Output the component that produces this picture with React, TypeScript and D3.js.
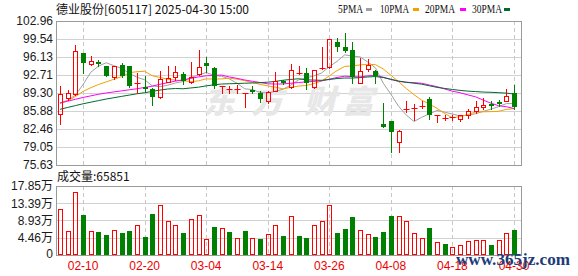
import React from "react";
import * as d3 from "d3";

const dates = [
  "02-05","02-06","02-07","02-10","02-11","02-12","02-13","02-14","02-17","02-18",
  "02-19","02-20","02-21","02-24","02-25","02-26","02-27","02-28","03-03","03-04",
  "03-05","03-06","03-07","03-10","03-11","03-12","03-13","03-14","03-17","03-18",
  "03-19","03-20","03-21","03-24","03-25","03-26","03-27","03-28","03-31","04-01",
  "04-02","04-03","04-07","04-08","04-09","04-10","04-11","04-14","04-15","04-16",
  "04-17","04-18","04-21","04-22","04-23","04-24","04-25","04-28","04-29","04-30",
];

const opens = [
  85.30, 88.29, 89.10, 96.82, 94.74, 95.18, 94.42, 92.27, 94.67, 94.42,
  91.00, 90.37, 89.99, 88.47, 91.45, 92.27, 92.84, 91.32, 92.84, 94.99,
  94.04, 90.55, 89.95, 89.95, 89.18, 89.90, 89.23, 87.84, 89.73, 91.55,
  90.50, 92.95, 93.03, 90.37, 93.95, 94.29, 98.97, 98.09, 97.46, 91.26,
  93.79, 93.41, 83.41, 83.98, 80.06, 86.20, 86.20, 86.70, 88.18, 85.10,
  84.55, 84.50, 84.27, 85.08, 85.82, 86.57, 87.25, 87.56, 87.87, 89.24,
];
const highs = [
  90.60, 89.87, 98.40, 96.82, 96.32, 95.62, 94.48, 94.42, 94.92, 94.42,
  93.15, 92.52, 90.18, 93.53, 94.43, 94.42, 93.28, 95.18, 97.45, 96.06,
  94.30, 90.70, 90.62, 90.80, 89.30, 90.62, 89.74, 89.60, 93.34, 91.75,
  94.85, 94.42, 93.98, 93.70, 97.96, 99.60, 99.67, 100.74, 99.04, 95.87,
  95.68, 93.66, 87.46, 84.00, 82.27, 87.87, 87.25, 87.87, 88.62, 85.20,
  85.20, 85.08, 85.08, 86.32, 87.69, 88.31, 87.87, 88.06, 90.05, 90.79,
];
const lows = [
  83.41, 87.97, 89.00, 93.15, 94.55, 94.48, 92.58, 91.95, 92.40, 90.50,
  89.23, 89.74, 87.08, 88.30, 91.30, 91.76, 90.94, 91.20, 92.70, 93.34,
  90.18, 89.23, 89.23, 89.23, 86.58, 89.23, 87.65, 87.34, 89.60, 91.00,
  90.30, 92.85, 90.12, 90.20, 93.85, 94.10, 97.33, 97.08, 91.13, 91.20,
  93.50, 91.13, 82.80, 78.03, 78.16, 85.70, 84.15, 86.44, 84.33, 83.84,
  84.15, 84.15, 84.02, 84.46, 85.51, 86.32, 86.32, 86.82, 87.80, 86.32,
];
const closes = [
  89.10, 89.35, 97.20, 95.05, 95.43, 94.93, 92.58, 94.42, 92.58, 90.69,
  91.13, 90.20, 88.60, 91.89, 92.05, 93.22, 91.64, 92.39, 94.17, 94.48,
  90.62, 90.65, 89.99, 90.02, 89.23, 89.75, 88.09, 89.40, 91.63, 91.30,
  93.60, 93.03, 91.13, 93.66, 94.10, 99.54, 98.09, 97.33, 92.39, 93.41,
  94.67, 92.52, 82.90, 81.80, 82.00, 86.32, 86.45, 86.82, 85.15, 85.18,
  84.64, 84.66, 85.08, 85.82, 86.57, 86.94, 86.75, 87.45, 88.68, 86.63,
];
const volumes = [
  120000, 61000, 164000, 103000, 61000, 59000, 51500, 63500, 56500, 61000,
  76500, 46500, 105500, 129000, 87000, 76500, 56500, 92000, 103000, 40500,
  72000, 69000, 59000, 43000, 62000, 43000, 41000, 54000, 76500, 49000,
  100000, 49000, 44000, 77500, 87500, 130500, 57500, 67000, 98000, 64500,
  54000, 46500, 59000, 100500, 100500, 87500, 56500, 44000, 69500, 33500,
  28500, 20500, 25000, 36000, 38500, 38500, 26000, 38500, 57500, 65851,
];

const ma5 = [
  87.4, 87.9, 88.9, 90.9, 93.23, 94.39, 95.04, 94.48, 93.99, 93.04,
  92.28, 91.80, 90.64, 90.50, 90.77, 91.19, 91.48, 92.24, 92.69, 93.18,
  92.66, 92.46, 91.98, 91.15, 90.10, 89.93, 89.42, 89.30, 89.62, 90.03,
  90.80, 91.79, 92.14, 92.54, 93.10, 94.29, 95.30, 96.54, 96.29, 96.15,
  95.18, 94.06, 91.18, 89.06, 86.78, 85.11, 83.89, 84.68, 85.35, 85.98,
  85.65, 85.29, 84.94, 85.08, 85.35, 85.81, 86.23, 86.71, 87.28, 87.29,
];
const ma10 = [
  87.35, 87.8, 88.6, 89.6, 90.3, 90.9, 91.4, 91.9, 92.4, 93.13,
  93.34, 93.42, 92.56, 92.25, 91.91, 91.74, 91.64, 91.44, 91.60, 91.98,
  91.93, 91.97, 92.11, 91.92, 91.64, 91.29, 90.94, 90.64, 90.39, 90.07,
  90.37, 90.61, 90.72, 91.09, 91.57, 92.55, 93.55, 94.34, 94.42, 94.63,
  94.74, 94.68, 93.86, 92.68, 91.47, 90.14, 88.98, 87.93, 87.20, 86.38,
  85.38, 84.59, 84.81, 85.21, 85.67, 85.73, 85.76, 85.82, 86.18, 86.32,
];
const ma20 = [
  87.4, 87.75, 88.1, 88.45, 88.75, 89.05, 89.3, 89.5, 89.7, 89.9,
  90.1, 90.35, 90.6, 90.95, 91.25, 91.55, 91.8, 92.05, 92.35, 92.56,
  92.63, 92.70, 92.34, 92.08, 91.77, 91.52, 91.29, 91.04, 90.99, 91.02,
  91.14, 91.28, 91.41, 91.50, 91.60, 91.92, 92.24, 92.49, 92.40, 92.35,
  92.55, 92.64, 92.29, 91.88, 91.51, 91.34, 91.26, 91.14, 90.81, 90.50,
  90.06, 89.64, 89.34, 88.94, 88.57, 87.94, 87.37, 86.88, 86.69, 86.35,
];
const ma30 = [
  86.2, 86.55, 86.9, 87.25, 87.55, 87.85, 88.15, 88.4, 88.65, 88.9,
  89.15, 89.35, 89.6, 89.85, 90.05, 90.15, 90.1, 90.25, 90.4, 90.65,
  90.85, 91.0, 91.05, 91.1, 91.15, 91.2, 91.25, 91.35, 91.5, 91.72,
  91.87, 92.00, 91.79, 91.75, 91.70, 91.86, 92.04, 92.14, 92.13, 92.22,
  92.34, 92.42, 92.23, 91.89, 91.56, 91.33, 91.15, 90.97, 90.67, 90.36,
  90.16, 89.96, 89.79, 89.65, 89.57, 89.47, 89.43, 89.36, 89.27, 89.11,
];

const priceTicks = [102.96, 99.54, 96.13, 92.71, 89.3, 85.88, 82.46, 79.05, 75.63];
const priceTickLabels = ["102.96", "99.54", "96.13", "92.71", "89.30", "85.88", "82.46", "79.05", "75.63"];
const volTicks = [178500, 133900, 89300, 44600, 0];
const volTickLabels = ["17.85万", "13.39万", "8.93万", "4.46万", "0"];
const dateTicks = ["02-10", "02-20", "03-04", "03-14", "03-26", "04-08", "04-18", "04-30"];

const title = "德业股份[605117] 2025-04-30 15:00";
const volTitle = "成交量:65851";
const legendNames = ["5PMA", "10PMA", "20PMA", "30PMA"];
const maSeries = [ma5, ma10, ma20, ma30];

const W = 578, H = 276;
const L = 56, R = 522;
const PT = 21, PB = 165, VT = 186, VB = 255;
const RED = "#ff0000", GREEN = "#008000";
const MA_COLORS = ["#a0a0a0", "#f5a000", "#ff00ff", "#006a2a"];
const GRID = "#d2d2d2", FRAME = "#9a9a9a";
const NUM_FONT = "'Liberation Sans', Arial, 'Noto Sans CJK SC', sans-serif";
const CJK_FONT = "'Noto Sans CJK SC', 'Liberation Sans', sans-serif";

export default function App() {
  const x = d3.scalePoint<string>().domain(dates).range([60, 514]);
  const y = d3.scaleLinear().domain([75.63, 102.96]).range([PB, PT]);
  const yv = d3.scaleLinear().domain([0, 178500]).range([VB, VT]);
  const cxOf = (i: number) => Math.round(x(dates[i]) as number) + 0.5;

  const line = d3
    .line<number>()
    .x((_, i) => x(dates[i]) as number)
    .y((d) => y(d));

  const legendX = [338, 380, 425, 472];
  const legendW = [25, 29, 30, 30];
  const swatchX = [366, 413, 460, 504];

  const watermarkChars = ["东", "方", "财", "富"];
  const watermarkX = [203, 251, 304, 342];

  return (
    <svg
      width={W}
      height={H}
      style={{ position: "absolute", left: 0, top: 0, background: "#fff" }}
    >
      <rect x={0} y={0} width={W} height={H} fill="#fff" />

      {/* title */}
      <text x={56} y={14} fontFamily={CJK_FONT} fontSize={12} fill="#111">
        {title}
      </text>

      {/* legend */}
      {legendNames.map((n, k) => (
        <g key={n}>
          <text
            x={legendX[k]}
            y={12.5}
            fontFamily="'Liberation Serif', 'DejaVu Serif', serif"
            fontSize={12.5}
            fill="#111"
            textLength={legendW[k]}
            lengthAdjust="spacingAndGlyphs"
          >
            {n}
          </text>
          <rect x={swatchX[k]} y={8} width={6} height={3} fill={MA_COLORS[k]} />
        </g>
      ))}

      {/* price grid */}
      {priceTicks.map((t, k) => (
        <line
          key={"pg" + k}
          x1={L}
          x2={R}
          y1={Math.round(y(t)) + 0.5}
          y2={Math.round(y(t)) + 0.5}
          stroke={GRID}
        />
      ))}
      {priceTicks.map((t, k) => (
        <text
          key={"pl" + k}
          x={53}
          y={y(t)}
          dy="0.36em"
          textAnchor="end"
          fontFamily={NUM_FONT}
          fontSize={12}
          fill="#1a1a1a"
        >
          {priceTickLabels[k]}
        </text>
      ))}

      {/* volume grid */}
      {volTicks.map((t, k) => (
        <line
          key={"vg" + k}
          x1={L}
          x2={R}
          y1={Math.round(yv(t)) + 0.5}
          y2={Math.round(yv(t)) + 0.5}
          stroke={GRID}
        />
      ))}
      {volTicks.map((t, k) => (
        <text
          key={"vl" + k}
          x={53}
          y={yv(t) - (t === 0 ? 1.5 : 0)}
          dy="0.36em"
          textAnchor="end"
          fontFamily={NUM_FONT}
          fontSize={12}
          fill="#1a1a1a"
        >
          {volTickLabels[k]}
        </text>
      ))}

      {/* vertical dashed date lines */}
      {dateTicks.map((d) => {
        const xx = Math.round(x(d) as number) + 0.5;
        return (
          <g key={"dl" + d}>
            <line x1={xx} x2={xx} y1={PT} y2={PB} stroke="#c8c8c8" strokeDasharray="4,3" />
            <line x1={xx} x2={xx} y1={VT} y2={VB} stroke="#c8c8c8" strokeDasharray="4,3" />
          </g>
        );
      })}

      {/* watermark */}
      {watermarkChars.map((c, k) => (
        <text
          key={"wm" + k}
          x={watermarkX[k]}
          y={113}
          fontFamily={CJK_FONT}
          fontSize={32}
          fontWeight={900}
          fontStyle="italic"
          fill="#e7e7e7"
        >
          {c}
        </text>
      ))}

      {/* frames */}
      <rect x={L + 0.5} y={PT + 0.5} width={R - L - 1} height={PB - PT} fill="none" stroke={FRAME} />
      <rect x={L + 0.5} y={VT + 0.5} width={R - L - 1} height={VB - VT} fill="none" stroke={FRAME} />

      {/* MA lines */}
      {maSeries.map((s, k) => (
        <path key={"ma" + k} d={line(s) || ""} fill="none" stroke={MA_COLORS[k]} strokeWidth={1} />
      ))}

      {/* candles */}
      {dates.map((d, i) => {
        const cx = cxOf(i);
        const o = opens[i], c = closes[i];
        const yh = Math.round(y(highs[i]));
        const yl = Math.round(y(lows[i]));
        const yo = Math.round(y(o));
        const yc = Math.round(y(c));
        const up = c >= o;
        if (up) {
          const top = yc + 0.5;
          const bot = yo + 0.5;
          if (bot - top < 1.5) {
            return (
              <g key={"c" + i} stroke={RED}>
                <line x1={cx} x2={cx} y1={yh} y2={yl + 1} />
                <line x1={cx - 3} x2={cx + 3} y1={top} y2={top} />
              </g>
            );
          }
          return (
            <g key={"c" + i} stroke={RED} fill="none">
              {yh < top && <line x1={cx} x2={cx} y1={yh} y2={top} />}
              {yl > bot && <line x1={cx} x2={cx} y1={bot} y2={yl + 1} />}
              <rect x={cx - 2} y={top} width={4} height={bot - top} />
            </g>
          );
        }
        const h = Math.max(1, yc - yo);
        return (
          <g key={"c" + i}>
            <line x1={cx} x2={cx} y1={yh} y2={yl + 1} stroke={GREEN} />
            <rect x={cx - 2.5} y={yo} width={5} height={h + (h < 2 ? 1 : 0)} fill={GREEN} />
          </g>
        );
      })}

      {/* volume */}
      <text x={57} y={181} fontFamily={CJK_FONT} fontSize={12} fill="#111">
        {volTitle}
      </text>
      {dates.map((d, i) => {
        const cx = cxOf(i);
        const prev = i === 0 ? opens[0] : closes[i - 1];
        const up = closes[i] >= prev;
        const top = Math.round(yv(volumes[i]));
        if (up) {
          return (
            <rect
              key={"v" + i}
              x={cx - 2}
              y={top + 0.5}
              width={4}
              height={VB - 1 - top}
              fill="none"
              stroke={RED}
            />
          );
        }
        return <rect key={"v" + i} x={cx - 2.5} y={top} width={5} height={VB - top} fill={GREEN} />;
      })}

      {/* date labels */}
      {dateTicks.map((d) => (
        <text
          key={"dt" + d}
          x={x(d) as number}
          y={270}
          textAnchor="middle"
          fontFamily={NUM_FONT}
          fontSize={12}
          fill="#ee0000"
        >
          {d}
        </text>
      ))}

      {/* site watermark */}
      <text
        x={456}
        y={265}
        fontFamily="'Liberation Serif', 'DejaVu Serif', serif"
        fontWeight="bold"
        fontSize={16}
        fill="#1c3c78"
        textLength={114}
        lengthAdjust="spacingAndGlyphs"
      >
        www.365jz.com
      </text>
    </svg>
  );
}
